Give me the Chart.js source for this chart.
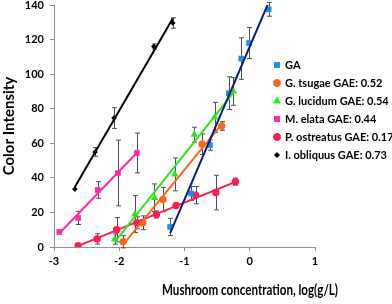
<!DOCTYPE html>
<html>
<head>
<meta charset="utf-8">
<script src="https://cdn.jsdelivr.net/npm/chart.js@4.4.0/dist/chart.umd.min.js"></script>
<style>
  html, body { margin: 0; padding: 0; background: #fff; }
  canvas { display: block; }
</style>
</head>
<body>
<canvas id="chart" width="392" height="304"></canvas>
<script>
// values: x = log(g/L), y = colour intensity, err = +/- bar
const gaX = [-1.22, -0.90, -0.61, -0.32, -0.13, -0.01, 0.29];
const gaY = [11.6, 31, 59, 89, 109, 118, 137.5];
const gaErr = [5, 4, 3, 9.5, 12, 9, 4];

const tsugaeX = [-1.94, -1.64, -1.33, -0.73, -0.43];
const tsugaeY = [3, 14, 27.5, 59.5, 70];
const tsugaeErr = [3.5, 4, 7, 6, 2.5];

const lucidumX = [-2.07, -1.76, -1.46, -1.15, -0.85, -0.54, -0.25];
const lucidumY = [4.6, 19, 28.5, 42, 65, 75, 90];
const lucidumErr = [3, 10.7, 8, 9.5, 4.3, 8.7, 8];

const elataX = [-2.92, -2.63, -2.33, -2.02, -1.73];
const elataY = [8.7, 16.8, 33, 42.8, 54.4];
const elataErr = [0, 3.8, 4.8, 19, 11.5];

const ostreatusX = [-2.63, -2.34, -2.04, -1.73, -1.43, -1.13, -0.83, -0.52, -0.22];
const ostreatusY = [0.8, 4.7, 10, 14, 18.8, 24, 30, 31.5, 37.8];
const ostreatusErr = [0, 3, 7, 3.5, 2, 1, 5, 10, 2];

const obliquusX = [-2.68, -2.37, -2.08, -1.47, -1.18];
const obliquusY = [33.5, 55, 74.6, 116, 129.6];
const obliquusErr = [0, 2.5, 6, 1.5, 3];

const seriesNames = [
  "GA",
  "G. tsugae GAE: 0.52",
  "G. lucidum GAE: 0.54",
  "M. elata GAE: 0.44",
  "P. ostreatus GAE: 0.17",
  "I. obliquus GAE: 0.73"
];

const xTicks = [-3, -2, -1, 0, 1];
const yTicks = [0, 20, 40, 60, 80, 100, 120, 140];

const series = [
  { name: seriesNames[0], x: gaX, y: gaY, err: gaErr, color: "#1f8de0", line: "#0c1d78", style: "rect", r: 4 },
  { name: seriesNames[1], x: tsugaeX, y: tsugaeY, err: tsugaeErr, color: "#ff6518", line: "#ff6518", style: "circle", r: 3.7 },
  { name: seriesNames[2], x: lucidumX, y: lucidumY, err: lucidumErr, color: "#2be81a", line: "#2be81a", style: "triangle", r: 4.3 },
  { name: seriesNames[3], x: elataX, y: elataY, err: elataErr, color: "#ff2aa6", line: "#ff2aa6", style: "rect", r: 4 },
  { name: seriesNames[4], x: ostreatusX, y: ostreatusY, err: ostreatusErr, color: "#ff1c4f", line: "#ff1c4f", style: "circle", r: 3.7 },
  { name: seriesNames[5], x: obliquusX, y: obliquusY, err: obliquusErr, color: "#000000", line: "#000000", style: "rectRot", r: 2.8 }
];

// linear trendline through each series, over its own x range
function trend(xs, ys) {
  const n = xs.length;
  const mx = xs.reduce((a, b) => a + b, 0) / n;
  const my = ys.reduce((a, b) => a + b, 0) / n;
  let sxy = 0, sxx = 0;
  for (let i = 0; i < n; i++) {
    sxy += (xs[i] - mx) * (ys[i] - my);
    sxx += (xs[i] - mx) * (xs[i] - mx);
  }
  const b = sxy / sxx;
  const a = my - b * mx;
  const x0 = Math.min(...xs), x1 = Math.max(...xs);
  return [{ x: x0, y: a + b * x0 }, { x: x1, y: a + b * x1 }];
}

const datasets = [];
series.forEach((s) => {
  datasets.push({
    type: "line",
    label: s.name + " trend",
    data: trend(s.x, s.y),
    borderColor: s.line,
    borderWidth: 2,
    pointRadius: 0,
    fill: false,
    order: 0
  });
  datasets.push({
    type: "scatter",
    label: s.name,
    data: s.x.map((v, i) => ({ x: v, y: s.y[i] })),
    errors: s.err,
    pointStyle: s.style,
    pointRadius: s.r,
    backgroundColor: s.color,
    borderColor: s.color,
    borderWidth: 0,
    showLine: false,
    order: 1
  });
});

const errorBars = {
  id: "errorBars",
  beforeDatasetsDraw(chart) {
    const ctx = chart.ctx;
    const xs = chart.scales.x, ys = chart.scales.y;
    ctx.save();
    ctx.strokeStyle = "#45505c";
    ctx.lineWidth = 1;
    chart.data.datasets.forEach((ds) => {
      if (!ds.errors) return;
      ds.data.forEach((p, i) => {
        const e = ds.errors[i];
        if (!e) return;
        const px = Math.round(xs.getPixelForValue(p.x)) + 0.5;
        const top = ys.getPixelForValue(p.y + e);
        const bot = ys.getPixelForValue(p.y - e);
        ctx.beginPath();
        ctx.moveTo(px, top); ctx.lineTo(px, bot);
        ctx.moveTo(px - 2.5, top); ctx.lineTo(px + 2.5, top);
        ctx.moveTo(px - 2.5, bot); ctx.lineTo(px + 2.5, bot);
        ctx.stroke();
      });
    });
    ctx.restore();
  }
};

const extras = {
  id: "extras",
  afterDraw(chart) {
    const ctx = chart.ctx;
    ctx.save();
    // legend
    ctx.font = "bold 11px Lato";
    ctx.textBaseline = "middle";
    ctx.textAlign = "left";
    series.forEach((s, i) => {
      const cy = 65 + i * 18;
      const cx = 277;
      ctx.fillStyle = s.color;
      Chart.helpers.drawPoint(ctx, { pointStyle: s.style, radius: s.r, rotation: 0, borderWidth: 0 }, cx, cy);
      ctx.fill();
      ctx.fillStyle = "#000";
      ctx.fillText(s.name, 285, cy + 0.5);
    });
    // x axis title
    ctx.font = "bold 15px Lato";
    ctx.textAlign = "center";
    ctx.fillText("Mushroom concentration, log(g/L)", 250, 290, 176);
    ctx.restore();
  }
};

new Chart(document.getElementById("chart"), {
  data: { datasets: datasets },
  options: {
    responsive: false,
    animation: false,
    layout: { padding: { top: 5, right: 77, left: 0, bottom: 0 } },
    plugins: {
      legend: { display: false },
      tooltip: { enabled: false }
    },
    scales: {
      x: {
        type: "linear",
        min: xTicks[0],
        max: xTicks[xTicks.length - 1],
        afterBuildTicks: (s) => { s.ticks = xTicks.map((v) => ({ value: v })); },
        afterFit: (s) => { s.height = 57; s.paddingLeft = 0; s.paddingRight = 0; },
        ticks: { color: "#000", font: { family: "Lato", weight: "bold", size: 11 }, padding: 4 },
        grid: { drawOnChartArea: false, drawTicks: true, tickLength: 4, color: "#8b939b" },
        border: { color: "#8b939b", width: 1 }
      },
      y: {
        type: "linear",
        min: yTicks[0],
        max: yTicks[yTicks.length - 1],
        afterBuildTicks: (s) => { s.ticks = yTicks.map((v) => ({ value: v })); },
        afterFit: (s) => { s.width = 54; s.paddingTop = 0; s.paddingBottom = 0; },
        ticks: { color: "#000", font: { family: "Lato", weight: "bold", size: 11 }, padding: 6 },
        grid: { drawOnChartArea: false, drawTicks: true, tickLength: 4, color: "#8b939b" },
        border: { color: "#8b939b", width: 1 },
        title: {
          display: true,
          text: "Color Intensity",
          color: "#000",
          font: { family: "Lato", weight: "bold", size: 15 },
          padding: 0
        }
      }
    }
  },
  plugins: [errorBars, extras]
});
</script>
</body>
</html>
